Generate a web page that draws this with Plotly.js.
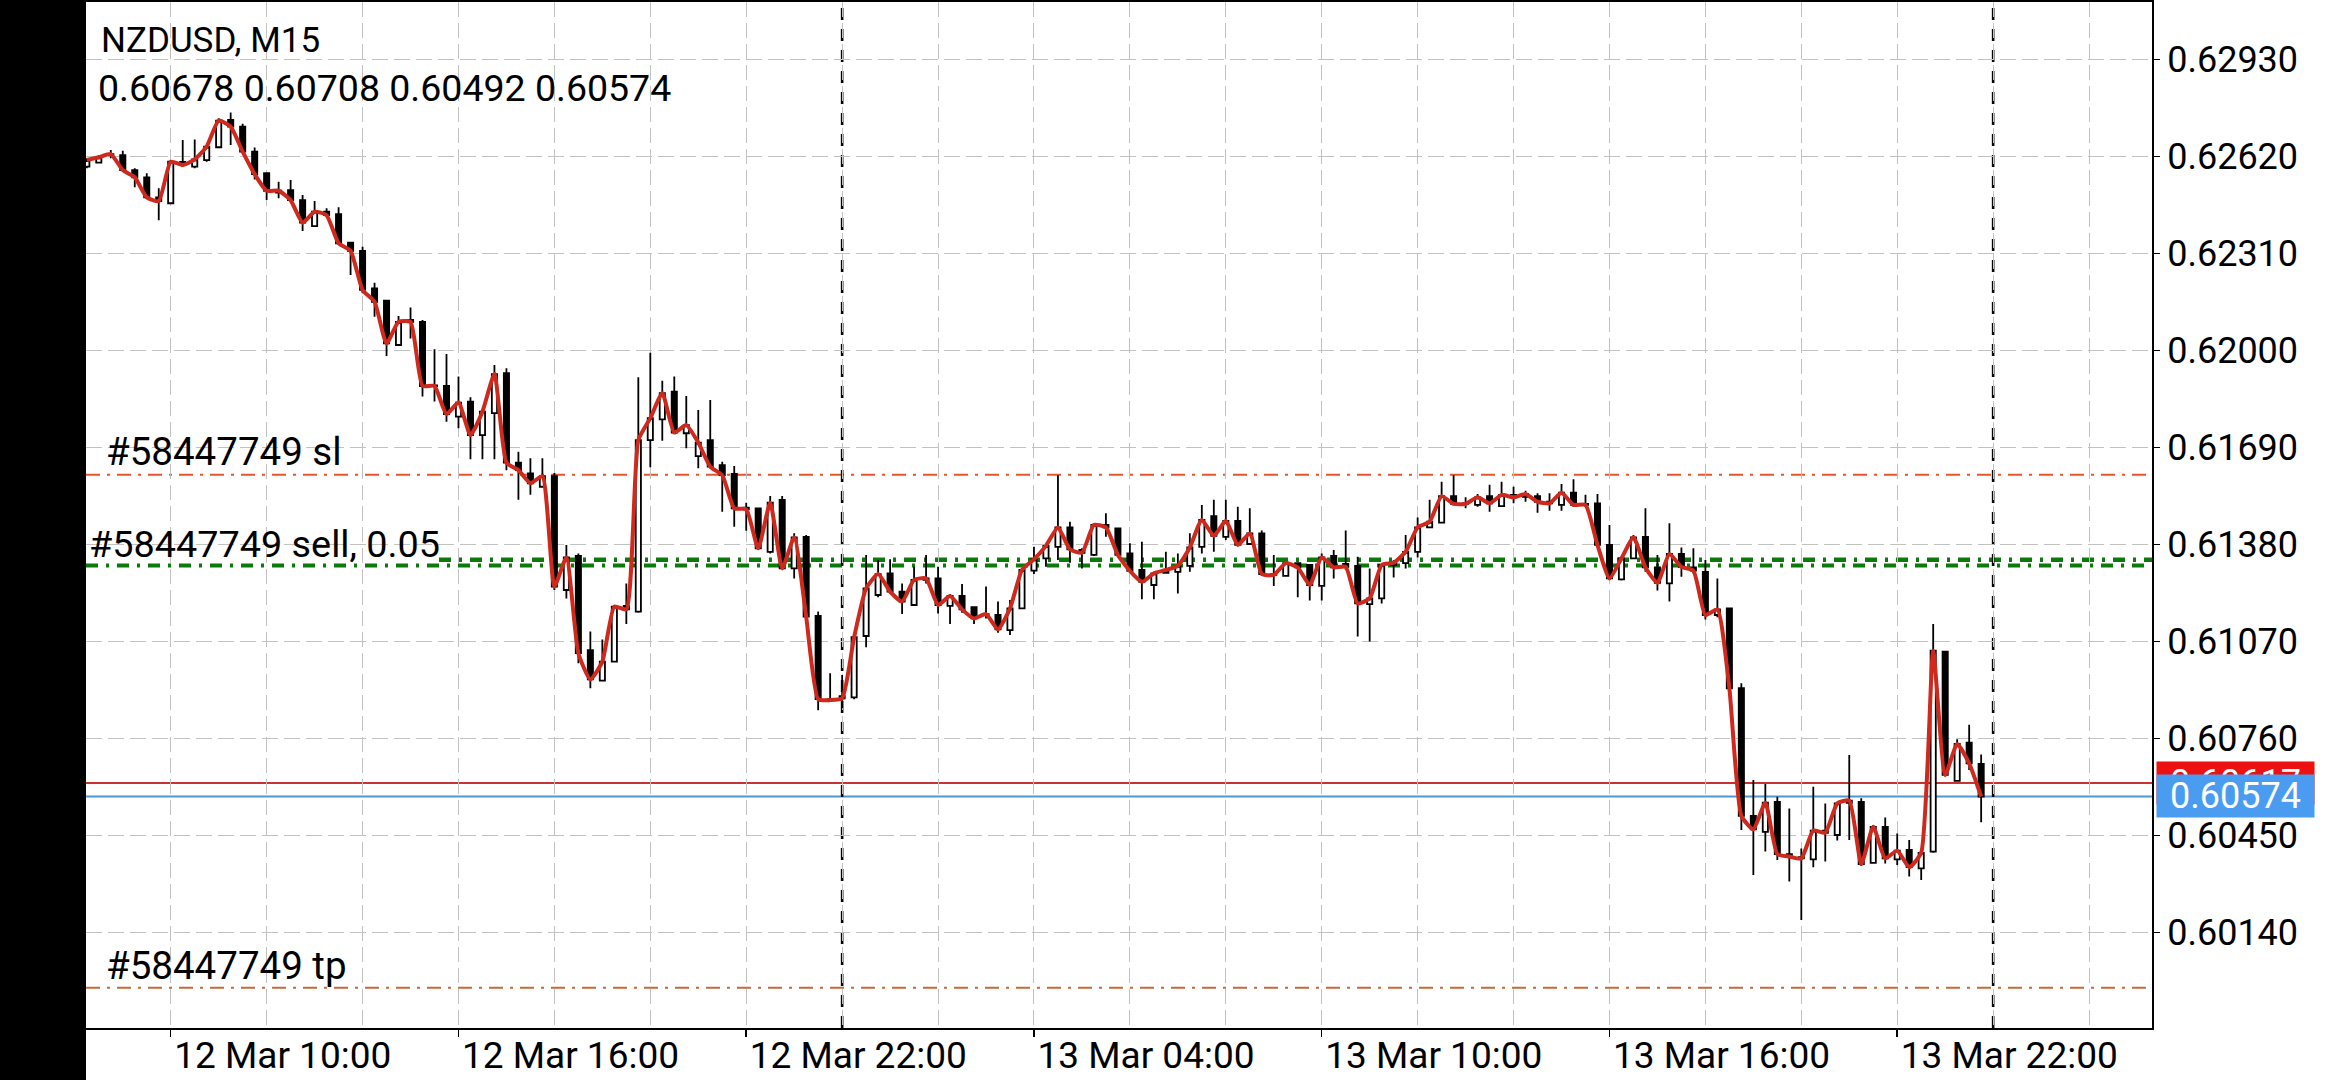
<!DOCTYPE html>
<html><head><meta charset="utf-8">
<script src="https://cdn.plot.ly/plotly-3.0.1.min.js"></script>
<style>html,body{margin:0;padding:0;background:#fff;overflow:hidden}#chart{width:2340px;height:1080px}</style>
</head><body><div id="chart"></div>
<script>
// ---------------- DATA ----------------
const symbolTitle = 'NZDUSD, M15';
const orderId = '#58447749';
const orderSide = 'sell, 0.05';
const barStartUTC = [2020, 2, 12, 8, 15];   // first bar: 12 Mar 08:15
const barMinutes = 15;

const opens = [
0.62587,0.62600,0.62624,0.62624,0.62576,0.62553,0.62489,0.62470,0.62602,0.62587,
0.62608,0.62649,0.62736,0.62715,0.62635,0.62566,0.62504,0.62512,0.62480,0.62397,
0.62443,0.62435,0.62344,0.62318,0.62198,0.62159,0.62017,0.62097,0.62091,0.61888,
0.61886,0.61788,0.61836,0.61729,0.61799,0.61927,0.61641,0.61607,0.61564,0.61598,
0.61234,0.61343,0.61042,0.60944,0.61005,0.61183,0.61165,0.61713,0.61779,0.61868,
0.61735,0.61662,0.61713,0.61633,0.61605,0.61497,0.61495,0.61356,0.61522,0.61303,
0.61404,0.61151,0.60885,
0.60895,0.60891,0.61087,0.61218,0.61287,0.61229,0.61186,0.61266,0.61271,0.61183,
0.61215,0.61179,0.61154,0.61154,0.61106,0.61175,0.61296,0.61335,0.61372,0.61434,
0.61362,0.61346,0.61442,0.61431,0.61351,0.61298,0.61250,0.61289,0.61292,0.61311,
0.61372,0.61470,0.61404,0.61455,0.61381,0.61415,0.61285,0.61279,0.61320,0.61314,
0.61247,0.61343,0.61317,0.61311,0.61189,0.61207,0.61314,0.61320,0.61356,0.61434,
0.61449,0.61534,0.61511,0.61506,0.61534,0.61502,0.61538,0.61532,0.61534,0.61516,
0.61506,0.61545,0.61509,0.61511,0.61378,0.61268,0.61335,0.61404,0.61306,0.61255,
0.61349,0.61306,0.61292,0.61154,0.61175,0.60920,0.60512,0.60461,0.60557,0.60390,
0.60380,0.60373,0.60465,0.60451,0.60554,0.60557,0.60362,0.60477,0.60373,0.60403,
0.60344,0.60398,0.61037,0.60624,0.60746,0.60678];

const highs = [
0.62614,0.62624,0.62640,0.62638,0.62582,0.62566,0.62518,0.62608,0.62672,0.62674,
0.62656,0.62742,0.62760,0.62724,0.62648,0.62568,0.62539,0.62544,0.62496,0.62477,
0.62454,0.62457,0.62347,0.62331,0.62216,0.62161,0.62110,0.62137,0.62097,0.62003,
0.61988,0.61916,0.61850,0.61804,0.61953,0.61943,0.61676,0.61655,0.61655,0.61608,
0.61378,0.61351,0.61101,0.61076,0.61185,0.61255,0.61914,0.61992,0.61903,0.61916,
0.61854,0.61809,0.61841,0.61644,0.61630,0.61513,0.61497,0.61534,0.61534,0.61415,
0.61410,0.61165,0.60968,
0.60962,0.61085,0.61346,0.61330,0.61332,0.61255,0.61308,0.61346,0.61308,0.61221,
0.61253,0.61181,0.61245,0.61197,0.61202,0.61300,0.61372,0.61377,0.61601,0.61452,
0.61367,0.61445,0.61479,0.61434,0.61383,0.61388,0.61292,0.61356,0.61351,0.61415,
0.61506,0.61522,0.61522,0.61500,0.61495,0.61424,0.61346,0.61324,0.61321,0.61317,
0.61351,0.61362,0.61424,0.61340,0.61303,0.61317,0.61330,0.61410,0.61466,0.61522,
0.61580,0.61601,0.61530,0.61541,0.61570,0.61580,0.61564,0.61551,0.61543,0.61543,
0.61573,0.61588,0.61538,0.61541,0.61442,0.61338,0.61410,0.61495,0.61346,0.61447,
0.61370,0.61367,0.61330,0.61271,0.61177,0.60936,0.60627,0.60614,0.60573,0.60536,
0.60408,0.60605,0.60552,0.60554,0.60707,0.60568,0.60483,0.60507,0.60456,0.60435,
0.60401,0.61125,0.61040,0.60757,0.60803,0.60708];

const lows = [
0.62582,0.62598,0.62614,0.62571,0.62521,0.62486,0.62416,0.62468,0.62587,0.62582,
0.62603,0.62646,0.62656,0.62630,0.62546,0.62480,0.62486,0.62475,0.62381,0.62395,
0.62427,0.62340,0.62241,0.62182,0.62107,0.61982,0.62014,0.62038,0.61852,0.61836,
0.61772,0.61751,0.61652,0.61652,0.61652,0.61617,0.61522,0.61538,0.61564,0.61234,
0.61207,0.61000,0.60920,0.60944,0.61003,0.61125,0.61161,0.61626,0.61711,0.61735,
0.61687,0.61623,0.61626,0.61484,0.61436,0.61423,0.61362,0.61351,0.61300,0.61271,
0.61147,0.60850,0.60877,
0.60856,0.60885,0.61051,0.61211,0.61223,0.61157,0.61183,0.61255,0.61159,0.61125,
0.61161,0.61125,0.61143,0.61097,0.61090,0.61175,0.61285,0.61308,0.61330,0.61321,
0.61303,0.61343,0.61404,0.61343,0.61292,0.61204,0.61204,0.61287,0.61223,0.61292,
0.61351,0.61356,0.61394,0.61375,0.61378,0.61279,0.61247,0.61279,0.61211,0.61200,
0.61200,0.61271,0.61298,0.61085,0.61069,0.61191,0.61274,0.61303,0.61338,0.61434,
0.61447,0.61506,0.61495,0.61500,0.61484,0.61502,0.61511,0.61516,0.61481,0.61487,
0.61487,0.61500,0.61500,0.61375,0.61266,0.61264,0.61332,0.61292,0.61232,0.61197,
0.61276,0.61287,0.61140,0.61147,0.60914,0.60467,0.60323,0.60398,0.60371,0.60302,
0.60179,0.60348,0.60366,0.60433,0.60435,0.60352,0.60360,0.60360,0.60355,0.60318,
0.60307,0.60394,0.60639,0.60624,0.60659,0.60492];

const closes = [
0.62608,0.62617,0.62627,0.62576,0.62553,0.62489,0.62477,0.62603,0.62592,0.62610,
0.62651,0.62734,0.62715,0.62635,0.62563,0.62510,0.62510,0.62480,0.62408,0.62443,
0.62432,0.62342,0.62318,0.62193,0.62155,0.62022,0.62091,0.62091,0.61886,0.61886,
0.61796,0.61833,0.61729,0.61804,0.61924,0.61641,0.61617,0.61575,0.61598,0.61245,
0.61338,0.61032,0.60948,0.61005,0.61181,0.61172,0.61713,0.61783,0.61863,0.61737,
0.61761,0.61705,0.61628,0.61601,0.61495,0.61492,0.61367,0.61513,0.61303,0.61402,
0.61149,0.60885,0.60882,
0.60888,0.61083,0.61239,0.61285,0.61229,0.61197,0.61266,0.61271,0.61186,0.61215,
0.61172,0.61143,0.61157,0.61108,0.61175,0.61298,0.61332,0.61375,0.61434,0.61364,
0.61353,0.61442,0.61434,0.61346,0.61295,0.61260,0.61287,0.61298,0.61311,0.61370,
0.61458,0.61407,0.61455,0.61378,0.61415,0.61285,0.61282,0.61320,0.61306,0.61250,
0.61338,0.61306,0.61308,0.61191,0.61207,0.61314,0.61321,0.61356,0.61434,0.61452,
0.61534,0.61509,0.61509,0.61530,0.61511,0.61538,0.61530,0.61541,0.61516,0.61511,
0.61545,0.61506,0.61506,0.61378,0.61271,0.61335,0.61402,0.61306,0.61257,0.61349,
0.61308,0.61296,0.61154,0.61172,0.60920,0.60512,0.60469,0.60554,0.60390,0.60382,
0.60376,0.60465,0.60458,0.60552,0.60561,0.60358,0.60477,0.60376,0.60401,0.60348,
0.60394,0.61040,0.60643,0.60742,0.60680,0.60574];

const stopLoss = 0.61602;
const takeProfit = 0.59963;
const entryLevels = [0.61331, 0.61312];
const askPrice = 0.60617;
const bidPrice = 0.60574;
const yTickValues = [0.60140,0.60450,0.60760,0.61070,0.61380,0.61690,0.62000,0.62310,0.62620,0.62930];
const daySeparators = ['2020-03-13 00:00', '2020-03-14 00:00'];
const xRange = ['2020-03-12 08:14:00', '2020-03-14 03:18:45'];
const yRange = [0.598341, 0.631132];

// ---------------- BUILD ----------------
const t0 = Date.UTC.apply(null, barStartUTC);
const times = opens.map((_, i) => new Date(t0 + i * barMinutes * 60000).toISOString().slice(0, 16).replace('T', ' '));

const W = 2340, H = 1080;
const PL = 86, PR = 2152, PT = 2, PB = 1028;
const px = x => (x - PL) / (PR - PL);
const py = y => (PB - y) / (PB - PT);

const FONT = 'Roboto, "Noto Sans", sans-serif';
const GRID = '#c2c2c2';

const candles = {
  type: 'candlestick', x: times, open: opens, high: highs, low: lows, close: closes,
  increasing: {line: {color: '#000', width: 1.8}, fillcolor: '#ffffff'},
  decreasing: {line: {color: '#000', width: 1.8}, fillcolor: '#000000'},
  whiskerwidth: 0, hoverinfo: 'skip', showlegend: false
};
const closeLine = {
  type: 'scatter', mode: 'lines', x: times, y: closes,
  line: {color: '#cf281c', width: 4, shape: 'spline', smoothing: 0.5},
  hoverinfo: 'skip', showlegend: false
};

const lvlDash = '14px,7px,3px,7px';
const greenDash = '12px,8px,3px,8px';
const shapes = [
  {type:'line', xref:'paper', x0:0, x1:1, yref:'y', y0:stopLoss, y1:stopLoss, layer:'between', line:{color:'#e8552a', width:2, dash:lvlDash}},
  {type:'line', xref:'paper', x0:0, x1:1, yref:'y', y0:takeProfit, y1:takeProfit, layer:'between', line:{color:'#c8693a', width:2, dash:lvlDash}},
  {type:'line', xref:'paper', x0:px(439), x1:1, yref:'y', y0:entryLevels[0], y1:entryLevels[0], layer:'between', line:{color:'#0b7a0b', width:4.5, dash:greenDash}},
  {type:'line', xref:'paper', x0:0, x1:1, yref:'y', y0:entryLevels[1], y1:entryLevels[1], layer:'between', line:{color:'#0b7a0b', width:4, dash:greenDash}},
  {type:'line', xref:'paper', x0:0, x1:1, yref:'y', y0:askPrice, y1:askPrice, layer:'between', line:{color:'#c83232', width:2}},
  {type:'line', xref:'paper', x0:0, x1:1, yref:'y', y0:bidPrice, y1:bidPrice, layer:'between', line:{color:'#4f98cf', width:2}},
  // left black panel
  {type:'rect', xref:'paper', yref:'paper', x0:-PL/(PR-PL)-0.01, x1:0, y0:-0.1, y1:1.1, fillcolor:'#000', line:{width:0}, layer:'above'}
];
daySeparators.forEach(d => shapes.push({type:'line', xref:'x', x0:d, x1:d, yref:'paper', y0:0, y1:1, layer:'between', line:{color:'#000', width:2.6, dash:'12px,9px'}}));

const last = opens.length - 1;
const ohlcText = [opens[last], highs[last], lows[last], closes[last]].map(v => v.toFixed(5)).join(' ');

const ann = (text, xL, yC, size) => ({text, xref:'paper', yref:'paper', x:px(xL), y:py(yC), xanchor:'left', yanchor:'middle', showarrow:false, borderpad:0, font:{family:FONT, size, color:'#000'}});
const annotations = [
  ann(symbolTitle, 100, 41, 35),
  ann(ohlcText, 97, 88, 37.5),
  ann(orderId + ' sl', 105, 451, 38.5),
  ann(orderId + ' ' + orderSide, 88, 544, 37.8),
  ann(orderId + ' tp', 105, 965, 38.5),
  {text: askPrice.toFixed(5), xref:'paper', yref:'y', x:px(2156), y:askPrice, xanchor:'left', yanchor:'middle', showarrow:false, bgcolor:'#ee1111', borderpad:0, width:157, height:42, align:'center', font:{family:FONT, size:36, color:'#fff'}},
  {text: bidPrice.toFixed(5), xref:'paper', yref:'y', x:px(2156), y:bidPrice, xanchor:'left', yanchor:'middle', showarrow:false, bgcolor:'#4a9cf0', borderpad:0, width:157, height:42, align:'center', font:{family:FONT, size:36, color:'#fff'}}
];

const layout = {
  width: W, height: H,
  margin: {l: PL, r: W - PR, t: PT, b: H - PB, pad: 0},
  paper_bgcolor: '#fff', plot_bgcolor: '#fff',
  showlegend: false, boxgap: 0.38,
  font: {family: FONT, color: '#000'},
  xaxis: {
    type: 'date', range: xRange, rangeslider: {visible: false},
    tick0: '2020-03-12 04:00', dtick: 6 * 3600000, tickformat: '%d %b %H:%M',
    ticks: 'outside', ticklen: 7, tickwidth: 1.5, tickcolor: '#000',
    tickfont: {family: FONT, size: 37, color: '#000'},
    ticklabelshift: 112, ticklabelstandoff: -13,
    showgrid: true, gridcolor: GRID, gridwidth: 1, griddash: '15px,6px',
    minor: {dtick: 2 * 3600000, tick0: '2020-03-12 00:00', showgrid: true, gridcolor: GRID, gridwidth: 1, griddash: '15px,6px', ticks: ''},
    showline: true, linecolor: '#000', linewidth: 2, mirror: true, zeroline: false, fixedrange: true
  },
  yaxis: {
    side: 'right', range: yRange, tickvals: yTickValues, ticktext: yTickValues.map(v => v.toFixed(5)),
    ticks: 'outside', ticklen: 6, tickwidth: 1.5, tickcolor: '#000',
    tickfont: {family: FONT, size: 36, color: '#000'},
    showgrid: true, gridcolor: GRID, gridwidth: 1, griddash: '16px,6px',
    showline: true, linecolor: '#000', linewidth: 2, mirror: true, zeroline: false, fixedrange: true
  },
  shapes, annotations
};

Plotly.newPlot('chart', [candles, closeLine], layout, {staticPlot: true, displayModeBar: false});
</script></body></html>
